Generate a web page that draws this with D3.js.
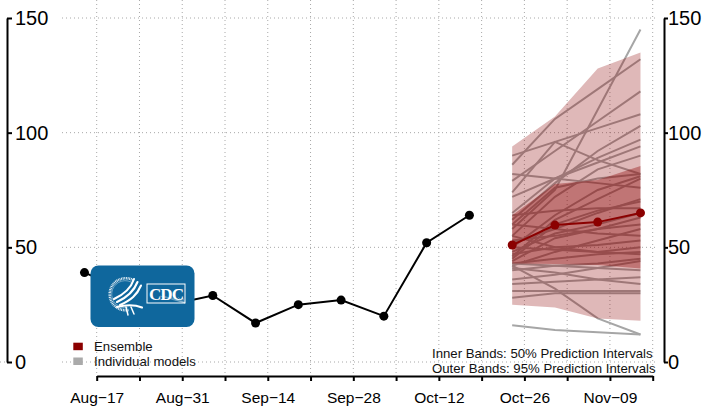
<!DOCTYPE html>
<html>
<head>
<meta charset="utf-8">
<script src="https://cdn.jsdelivr.net/npm/d3@7"></script>
<style>
  html, body { margin: 0; padding: 0; background: #fff; }
  svg { display: block; font-family: "Liberation Sans", Arial, sans-serif; }
</style>
</head>
<body>
<svg id="chart" width="719" height="414"></svg>
<script>
// --- Data ---
// observed weekly counts (weeks ending Saturday)
const obsDates = ["2020-08-15", "2020-08-22", "2020-08-29", "2020-09-05", "2020-09-12",
                  "2020-09-19", "2020-09-26", "2020-10-03", "2020-10-10", "2020-10-17"];
const obsValues = [39, 31, 25, 29, 17, 25, 27, 20, 52, 64];

// forecast horizon
const fcDates = ["2020-10-24", "2020-10-31", "2020-11-07", "2020-11-14"];
const ensembleMedian = [51, 59.7, 61, 65];
const pi50Lower = [43, 42.7, 42.3, 40.8];
const pi50Upper = [64, 77.6, 79.4, 85.5];
const pi95Lower = [25, 23.8, 19, 18];
const pi95Upper = [94, 107, 128, 135];

// individual model point forecasts, one row per model
const modelForecasts = [
  [58, 75, 110, 145],
  [86, 106, 119, 132],
  [79, 92, 105, 118],
  [90, 96, 102, 108],
  [62, 78, 92, 103],
  [74, 96, 88, 82],
  [65, 80, 89, 97],
  [72, 80, 87, 94],
  [55, 72, 84, 90],
  [50, 64, 75, 81],
  [60, 76, 80, 82],
  [46, 62, 71, 80],
  [82, 80, 78, 76],
  [52, 58, 65, 71],
  [45, 60, 66, 70],
  [64, 66, 67, 67],
  [48, 56, 60, 65],
  [44, 54, 58, 63],
  [53, 55, 58, 60],
  [42, 48, 53, 58],
  [60, 58, 56, 55],
  [47, 50, 51, 53],
  [50, 49, 48, 50],
  [43, 45, 47, 48],
  [55, 50, 48, 47],
  [40, 42, 43, 45],
  [36, 38, 41, 44],
  [43, 42, 41, 40],
  [34, 35, 36, 37],
  [41, 39, 36, 34],
  [31, 31, 31, 31],
  [28, 30, 30, 30],
  [42, 32, 19, 12],
  [16, 14, 13, 12]
];

const yTicks = [0, 50, 100, 150];
const xTickRange = ["2020-08-17", "2020-11-16"]; // Monday ticks, labelled every other week
const legendLabels = ["Ensemble", "Individual models"];
const noteLabels = ["Inner Bands: 50% Prediction Intervals", "Outer Bands: 95% Prediction Intervals"];

// --- Setup ---
const parse = d3.timeParse("%Y-%m-%d");
const svg = d3.select("#chart");

const x = d3.scaleTime()
  .domain([parse(xTickRange[0]), parse(xTickRange[1])])
  .range([96.7, 652.7]);
const y = d3.scaleLinear().domain([0, 150]).range([362, 18]);

const weekTicks = d3.timeMonday.range(parse(xTickRange[0]), d3.timeDay.offset(parse(xTickRange[1]), 1));
const fmt = d3.timeFormat("%b");
const fmtDay = d3.timeFormat("%d");

const DARKRED = "#8b0000";

// --- Grid ---
const grid = svg.append("g")
  .attr("stroke", "#a8a8a8")
  .attr("stroke-width", 1)
  .attr("stroke-dasharray", "1,3");

grid.selectAll("line.h")
  .data(yTicks)
  .enter().append("line")
  .attr("x1", 62).attr("x2", 657)
  .attr("y1", d => y(d)).attr("y2", d => y(d));

grid.append("line")
  .attr("x1", 0).attr("x2", 5)
  .attr("y1", y(0)).attr("y2", y(0));

grid.selectAll("line.v")
  .data(weekTicks)
  .enter().append("line")
  .attr("x1", d => x(d)).attr("x2", d => x(d))
  .attr("y1", 0).attr("y2", 376);

// --- Individual models (under the bands) ---
const fcPts = fcDates.map(parse);
const modelLine = d3.line()
  .x((d, i) => x(fcPts[i]))
  .y(d => y(d));

svg.append("g").selectAll("path")
  .data(modelForecasts)
  .enter().append("path")
  .attr("d", modelLine)
  .attr("fill", "none")
  .attr("stroke", "#a6a6a6")
  .attr("stroke-width", 2);

// --- Prediction bands ---
const band = (lo, hi) => d3.area()
  .x((d, i) => x(fcPts[i]))
  .y0((d, i) => y(lo[i]))
  .y1((d, i) => y(hi[i]))(fcPts);

svg.append("path")
  .attr("d", band(pi95Lower, pi95Upper))
  .attr("fill", DARKRED)
  .attr("fill-opacity", 0.28);

svg.append("path")
  .attr("d", band(pi50Lower, pi50Upper))
  .attr("fill", DARKRED)
  .attr("fill-opacity", 0.36);

// --- Ensemble median ---
const ensLine = d3.line()
  .x((d, i) => x(fcPts[i]))
  .y(d => y(d));

svg.append("path")
  .attr("d", ensLine(ensembleMedian))
  .attr("fill", "none")
  .attr("stroke", DARKRED)
  .attr("stroke-width", 2);

svg.append("g").selectAll("circle")
  .data(ensembleMedian)
  .enter().append("circle")
  .attr("cx", (d, i) => x(fcPts[i]))
  .attr("cy", d => y(d))
  .attr("r", 4.5)
  .attr("fill", DARKRED);

// --- Observed ---
const obsPts = obsDates.map(parse);
const obsLine = d3.line()
  .x((d, i) => x(obsPts[i]))
  .y(d => y(d));

svg.append("path")
  .attr("d", obsLine(obsValues))
  .attr("fill", "none")
  .attr("stroke", "#000")
  .attr("stroke-width", 2);

svg.append("g").selectAll("circle")
  .data(obsValues)
  .enter().append("circle")
  .attr("cx", (d, i) => x(obsPts[i]))
  .attr("cy", d => y(d))
  .attr("r", 4.5)
  .attr("fill", "#000");

// --- Axes ---
function styleAxis(g, fontSize) {
  g.select(".domain").attr("stroke", "#000").attr("stroke-width", 2);
  g.selectAll(".tick line").attr("stroke", "#000").attr("stroke-width", 2);
  g.selectAll(".tick text")
    .attr("fill", "#000")
    .style("font-size", fontSize + "px")
    .style("font-family", "'Liberation Sans', Arial, sans-serif");
}

svg.append("g")
  .attr("transform", "translate(7,0)")
  .call(d3.axisRight(y).tickValues(yTicks).tickSize(5).tickSizeOuter(0).tickPadding(3))
  .call(g => styleAxis(g, 20));

svg.append("g")
  .attr("transform", "translate(664,0)")
  .call(d3.axisRight(y).tickValues(yTicks).tickSize(4).tickSizeOuter(0).tickPadding(0))
  .call(g => styleAxis(g, 20));

svg.append("g")
  .attr("transform", "translate(0,376)")
  .call(d3.axisBottom(x).tickValues(weekTicks).tickSize(5).tickSizeOuter(0).tickPadding(11)
    .tickFormat((d, i) => i % 2 === 0 ? fmt(d) + "\u2212" + fmtDay(d) : ""))
  .call(g => styleAxis(g, 15.5))
  .call(g => g.selectAll(".tick text").filter(function() { return !this.textContent; }).remove());

// --- Legend ---
const legendColors = [DARKRED, "#aaaaaa"];
const legend = svg.append("g");
legend.selectAll("rect")
  .data(legendLabels)
  .enter().append("rect")
  .attr("x", 73.3)
  .attr("y", (d, i) => 342.7 + i * 14.8)
  .attr("width", 9.5)
  .attr("height", 7.5)
  .attr("fill", (d, i) => legendColors[i]);

legend.selectAll("text")
  .data(legendLabels)
  .enter().append("text")
  .attr("x", 94)
  .attr("y", (d, i) => 350.7 + i * 15)
  .style("font-size", "13.2px")
  .attr("fill", "#111")
  .text(d => d);

svg.append("g").selectAll("text")
  .data(noteLabels)
  .enter().append("text")
  .attr("x", 432)
  .attr("y", (d, i) => 357.6 + i * 15.2)
  .style("font-size", "13.2px")
  .attr("fill", "#111")
  .text(d => d);

// --- CDC logo ---
const logo = svg.append("g");
logo.append("rect")
  .attr("x", 90.5).attr("y", 265.5)
  .attr("width", 104).attr("height", 61.5)
  .attr("rx", 8).attr("ry", 8)
  .attr("fill", "#0f679d");

// seal ring (tiny lettering drawn as a dotted arc)
logo.append("path")
  .attr("d", "M 128.5,310 A 16,16 0 1 1 133,280")
  .attr("fill", "none")
  .attr("stroke", "#fff")
  .attr("stroke-width", 2.6)
  .attr("stroke-dasharray", "0.9,0.7")
  .attr("opacity", 0.9);
logo.append("path")
  .attr("d", "M 127.5,307.5 A 13.5,13.5 0 1 1 131,282")
  .attr("fill", "none")
  .attr("stroke", "#fff")
  .attr("stroke-width", 0.5)
  .attr("opacity", 0.8);

// eagle swooshes
const eagle = logo.append("g")
  .attr("fill", "none")
  .attr("stroke", "#fff")
  .attr("stroke-linecap", "round");
[
  "M134,279 C131,288 125,294 114,299",
  "M137.5,282 C134,291 128,297 117,302",
  "M141,285.5 C137,295 131,300 120,305",
  "M117,307 C125,305 133,304 142,307.5"
].forEach(d => eagle.append("path").attr("d", d).attr("stroke-width", 2.1));
eagle.append("path").attr("d", "M126,307 L128,315 M131,307 L134,314").attr("stroke-width", 1.5);

// CDC box
logo.append("rect")
  .attr("x", 147).attr("y", 284)
  .attr("width", 38).attr("height", 19)
  .attr("fill", "none")
  .attr("stroke", "#fff")
  .attr("stroke-width", 1);
const rays = logo.append("g").attr("stroke", "#fff").attr("stroke-width", 0.4).attr("opacity", 0.7);
d3.range(6).forEach(k => {
  rays.append("line")
    .attr("x1", 185).attr("y1", 303)
    .attr("x2", 160 + k * 4.5).attr("y2", 296 + k * 0.3);
});
logo.append("text")
  .attr("x", 166).attr("y", 299.5)
  .attr("text-anchor", "middle")
  .style("font-family", "'Liberation Serif', 'DejaVu Serif', serif")
  .style("font-weight", "bold")
  .style("font-size", "17px")
  .attr("letter-spacing", "-1")
  .attr("fill", "#fff")
  .text("CDC");
</script>
</body>
</html>
